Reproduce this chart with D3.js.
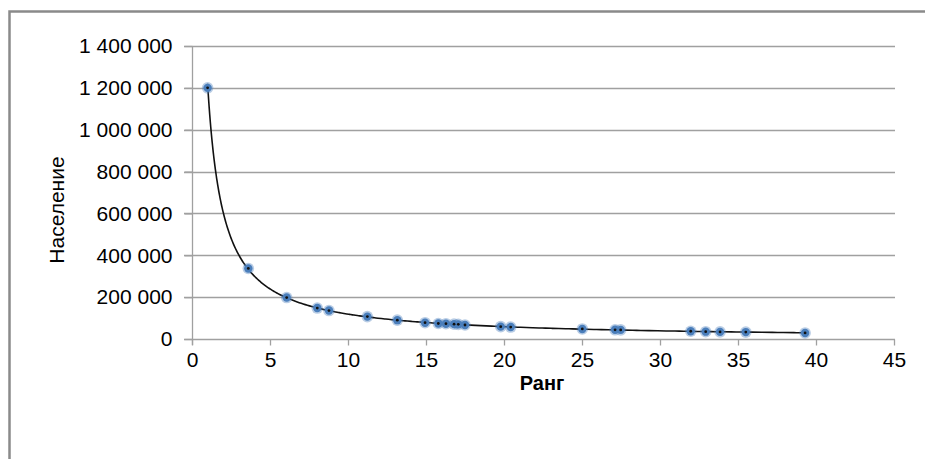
<!DOCTYPE html>
<html><head><meta charset="utf-8">
<script src="https://cdn.jsdelivr.net/npm/d3@7"></script>
<style>
html,body{margin:0;padding:0;background:#fff;}
svg{display:block;}
text{font-family:"Liberation Sans",Arial,sans-serif;fill:#000;}
</style></head>
<body><svg id="c" width="925" height="459"></svg>
<script>
const ranks = [1, 3.61, 6.07, 8.03, 8.78, 11.24, 13.16, 14.94, 15.79, 16.28, 16.8, 17.07, 17.5, 19.79, 20.43, 25.02, 27.12, 27.48, 31.97, 32.93, 33.85, 35.5, 39.3];
const population = [1200000, 337000, 198000, 148000, 136000, 107000, 90000, 78000, 74000, 73000, 71000, 70000, 67000, 59000, 57000, 48000, 44000, 43500, 37000, 35000, 34000, 33000, 29000];
const xTicks = [0, 5, 10, 15, 20, 25, 30, 35, 40, 45];
const yTicks = [0, 200000, 400000, 600000, 800000, 1000000, 1200000, 1400000];
const xTitle = "Ранг";
const yTitle = "Население";

const data = ranks.map((r, i) => ({r, p: population[i]}));
const svg = d3.select("#c");
const x = d3.scaleLinear().domain([0, 45]).range([192, 894]);
const y = d3.scaleLinear().domain([0, 1400000]).range([339, 46]);
const loc = d3.formatLocale({decimal: ",", thousands: " ", grouping: [3], currency: ["", ""]});
const fmt = loc.format(",");
const FONT = '"Liberation Sans",Arial,sans-serif';

// outer border
svg.append("rect").attr("x", 9.5).attr("y", 11.5).attr("width", 940).attr("height", 470)
  .attr("fill", "none").attr("stroke", "#8a8a8a").attr("stroke-width", 2.5);

// gridlines
svg.append("g").selectAll("line").data(yTicks.filter(d => d > 0)).join("line")
  .attr("x1", 184).attr("x2", 895).attr("y1", d => Math.round(y(d)) + 0.5).attr("y2", d => Math.round(y(d)) + 0.5)
  .attr("stroke", "#a0a0a0").attr("stroke-width", 1.3);

// y axis
const ya = svg.append("g").attr("transform", "translate(192.5,0)")
  .call(d3.axisLeft(y).tickValues(yTicks).tickFormat(fmt).tickSize(8).tickPadding(12));
ya.select(".domain").attr("stroke", "#a0a0a0").attr("stroke-width", 1.3).attr("d", `M0,${y(1400000)}V${y(0) + 6}`);
ya.selectAll(".tick line").attr("stroke", "#a0a0a0").attr("stroke-width", 1.3);
ya.selectAll(".tick text").attr("font-size", 21).attr("font-family", FONT).attr("fill", "#000");

// x axis
const xa = svg.append("g").attr("transform", `translate(0,${Math.round(y(0)) + 0.5})`)
  .call(d3.axisBottom(x).tickValues(xTicks).tickFormat(d3.format("d")).tickSize(6).tickPadding(7));
xa.select(".domain").attr("stroke", "#a0a0a0").attr("stroke-width", 1.3).attr("d", `M${x(0) - 8},0H${x(45) + 1}`);
xa.selectAll(".tick line").attr("stroke", "#a0a0a0").attr("stroke-width", 1.3);
xa.selectAll(".tick text").attr("font-size", 21).attr("font-family", FONT).attr("fill", "#000");

// titles
svg.append("text").attr("x", 542).attr("y", 390).attr("text-anchor", "middle")
  .attr("font-family", FONT).attr("font-size", 20).attr("font-weight", "bold").text(xTitle);
svg.append("text").attr("transform", "translate(64,210) rotate(-90)").attr("text-anchor", "middle")
  .attr("font-family", FONT).attr("font-size", 21).text(yTitle);

// power trendline fitted to the data (least squares in log-log space)
const lx = ranks.map(Math.log), ly = population.map(Math.log);
const mx = d3.mean(lx), my = d3.mean(ly);
const b = d3.sum(lx, (v, i) => (v - mx) * (ly[i] - my)) / d3.sum(lx, v => (v - mx) * (v - mx));
const a = Math.exp(my - b * mx);
const [r0, r1] = d3.extent(ranks);
const trend = d3.range(0, 201).map(i => {
  const r = r0 * Math.pow(r1 / r0, i / 200);
  return {r, p: a * Math.pow(r, b)};
});
const line = d3.line().x(d => x(d.r)).y(d => y(d.p)).curve(d3.curveMonotoneX);
svg.append("path").datum(trend).attr("d", line).attr("fill", "none").attr("stroke", "#111").attr("stroke-width", 1.6);

// points
const g = svg.append("g");
g.selectAll("circle.halo").data(data).join("circle").attr("class", "halo")
  .attr("cx", d => x(d.r)).attr("cy", d => y(d.p)).attr("r", 5.8)
  .attr("fill", "#4f81bd").attr("opacity", 0.4);
g.selectAll("circle.dot").data(data).join("circle").attr("class", "dot")
  .attr("cx", d => x(d.r)).attr("cy", d => y(d.p)).attr("r", 4.2)
  .attr("fill", "#4a7ebb");
g.selectAll("circle.c").data(data).join("circle").attr("class", "c")
  .attr("cx", d => x(d.r)).attr("cy", d => y(d.p)).attr("r", 1.4)
  .attr("fill", "#111");
</script></body></html>
